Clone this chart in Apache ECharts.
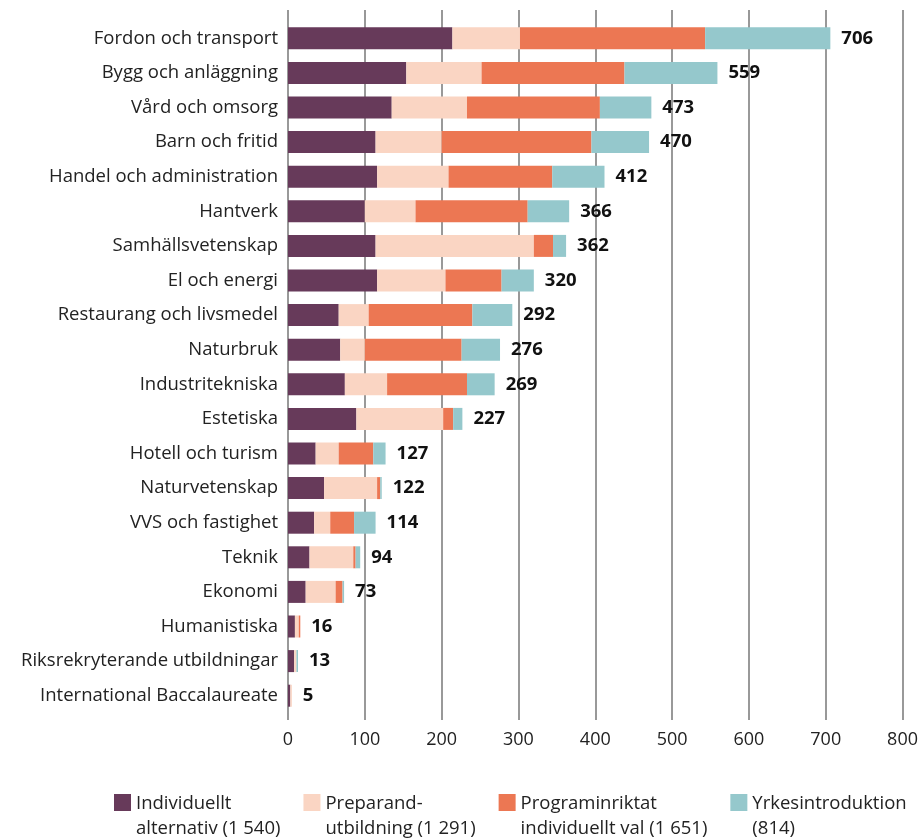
<!DOCTYPE html>
<html>
<head>
<meta charset="utf-8">
<script src="https://cdn.jsdelivr.net/npm/echarts@6/dist/echarts.min.js"></script>
<style>
    html, body { margin: 0; padding: 0; background: #fff; }
    #chart { width: 921px; height: 838px; }
</style>
</head>
<body>
<div id="chart"></div>
<script>
// programområden, uppifrån och ned
var categories = [
    'Fordon och transport', 'Bygg och anläggning', 'Vård och omsorg', 'Barn och fritid',
    'Handel och administration', 'Hantverk', 'Samhällsvetenskap', 'El och energi',
    'Restaurang och livsmedel', 'Naturbruk', 'Industritekniska', 'Estetiska',
    'Hotell och turism', 'Naturvetenskap', 'VVS och fastighet', 'Teknik',
    'Ekonomi', 'Humanistiska', 'Riksrekryterande utbildningar', 'International Baccalaureate'
];
var seriesNames = [
    'Individuellt\nalternativ (1 540)',
    'Preparand-\nutbildning (1 291)',
    'Programinriktat\nindividuellt val (1 651)',
    'Yrkesintroduktion\n(814)'
];
var individuellt = [214, 154, 135, 114, 116, 100, 114, 116, 66, 68, 74, 89, 36, 47, 34, 28, 23, 9, 8, 3];
var preparand    = [88, 98, 98, 86, 93, 66, 206, 89, 39, 32, 55, 113, 30, 69, 21, 57, 39, 5, 3, 2];
var programinr   = [241, 186, 173, 195, 135, 146, 25, 73, 135, 126, 104, 13, 45, 4, 31, 3, 9, 2, 0, 0];
var yrkesintro   = [163, 121, 67, 75, 68, 54, 17, 42, 52, 50, 36, 12, 16, 2, 28, 6, 2, 0, 2, 0];
var totals       = [706, 559, 473, 470, 412, 366, 362, 320, 292, 276, 269, 227, 127, 122, 114, 94, 73, 16, 13, 5];
var xTicks = [0, 100, 200, 300, 400, 500, 600, 700, 800];

var colors = ['#673a5a', '#fad5c3', '#ec7753', '#95c8cc'];
var fontFamily = '"Open Sans", "Noto Sans", sans-serif';

var chart = echarts.init(document.getElementById('chart'));

var stackData = [individuellt, preparand, programinr, yrkesintro];
var series = stackData.map(function(d, i) {
    return {
        name: seriesNames[i],
        type: 'bar',
        stack: 'total',
        barWidth: 22,
        itemStyle: { color: colors[i] },
        emphasis: { disabled: true },
        data: d
    };
});
// osynlig serie som bara bär summaetiketterna
series.push({
    name: 'summa',
    type: 'bar',
    barWidth: 22,
    barGap: '-100%',
    z: 0,
    silent: true,
    itemStyle: { color: 'rgba(0,0,0,0)' },
    label: {
        show: true,
        position: 'right',
        distance: 11,
        fontFamily: fontFamily,
        fontSize: 18.5,
        fontWeight: 'bold',
        color: '#111'
    },
    data: totals
});

var option = {
    animation: false,
    color: colors,
    textStyle: { fontFamily: fontFamily },
    grid: { left: 288, right: 17, top: 21, bottom: 125, containLabel: false },
    legend: {
        data: seriesNames,
        left: 114,
        top: 791,
        padding: 0,
        itemWidth: 17,
        itemHeight: 44,
        itemGap: 23,
        icon: 'path://M0,0h17v17h-17z M0,44h0.01',
        itemStyle: { borderWidth: 0 },
        textStyle: { fontFamily: fontFamily, fontSize: 18.5, color: '#222', lineHeight: 25 }
    },
    xAxis: [{
        type: 'value',
        min: 0,
        max: 800,
        interval: 100,
        position: 'bottom',
        axisLine: { show: false },
        axisTick: { show: true, length: 7, lineStyle: { color: '#777', width: 1.5 } },
        splitLine: { show: true, lineStyle: { color: '#777', width: 1.5 } },
        axisLabel: {
            margin: 18,
            fontFamily: fontFamily,
            fontSize: 18,
            color: '#222',
            formatter: function(v) { return xTicks.indexOf(v) >= 0 ? String(v) : ''; }
        }
    }, {
        type: 'value',
        min: 0,
        max: 800,
        interval: 100,
        position: 'top',
        axisLine: { show: false },
        axisTick: { show: true, length: 11, lineStyle: { color: '#777', width: 1.5 } },
        splitLine: { show: false },
        axisLabel: { show: false }
    }],
    yAxis: {
        type: 'category',
        inverse: true,
        data: categories,
        axisLine: { show: false },
        axisTick: { show: false },
        axisLabel: { margin: 10, fontFamily: fontFamily, fontSize: 18.5, color: '#222' }
    },
    series: series
};
chart.setOption(option);
</script>
</body>
</html>
